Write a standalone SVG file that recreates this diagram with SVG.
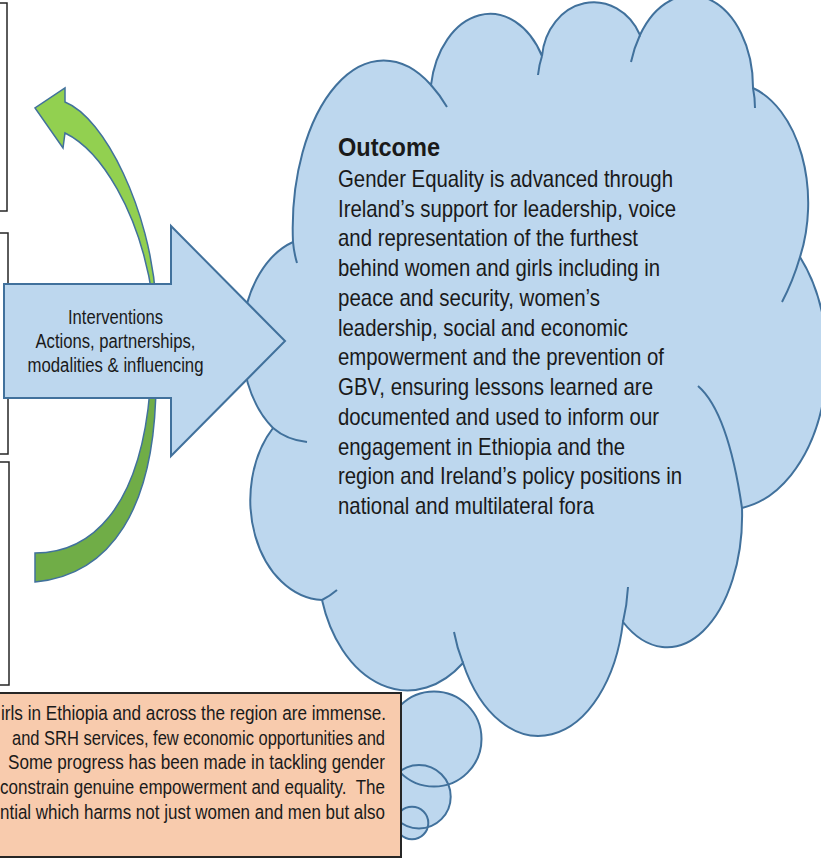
<svg xmlns="http://www.w3.org/2000/svg" width="821" height="858" viewBox="0 0 821 858">
<style>
.cl{fill:#BDD7EE;stroke:#41719C;stroke-width:2;}
.tl{fill:none;stroke:#41719C;stroke-width:2;}
.bx{fill:none;stroke:#262626;stroke-width:1.5;}
.t{font-family:"Liberation Sans Narrow","Arial Narrow","Liberation Sans",Arial,sans-serif;fill:#1a1a1a;}
.ct{font-size:24px;}
.it{font-size:20px;}
.pt{font-size:20.5px;}
.gs{stroke:#41719C;stroke-width:1.5;stroke-linejoin:miter;}
</style>
<rect width="821" height="858" fill="#ffffff"/>

<g id="left-box-1"><rect class="bx" x="-5" y="3" width="12" height="208"/></g>
<g id="left-box-2"><rect class="bx" x="-5" y="233" width="13" height="221"/></g>
<g id="left-box-3"><rect class="bx" x="-5" y="462" width="14" height="223"/></g>

<g id="outcome-cloud">
<path class="cl" d="M293,242 A91,168 0 0 1 431,85 A60,85 0 0 1 542,56 A52,60 0 0 1 640,35 A62,92 0 0 1 753,88 A77,120 0 0 1 800,257 A100,150 0 0 1 742,508 A75,132 0 0 1 623,622 A86,140 0 0 1 463,663 A90,130 0 0 1 322,600 A74,100 0 0 1 273,428 A73,105 0 0 1 293,242 Z"/>
<path class="tl" d="M293,242 Q294,253 297,263 M431,85 Q440,95 447,107 M542,56 Q539,65 538,75 M640,35 Q634,48 631,62 M753,88 Q755,98 755,108 M800,257 Q793,281 782,302 M742,508 Q728,412 698,386 M623,622 Q627,605 628,587 M463,663 Q457,648 454,632 M322,600 Q330,596 337,590 M273,428 Q287,440 307,442"/>
<text class="t" x="338" y="156" font-size="26" font-weight="bold" textLength="102" lengthAdjust="spacingAndGlyphs">Outcome</text>
<g class="t ct">
<text x="338" y="187" textLength="335" lengthAdjust="spacingAndGlyphs">Gender Equality is advanced through</text>
<text x="338" y="217" textLength="338" lengthAdjust="spacingAndGlyphs">Ireland’s support for leadership, voice</text>
<text x="338" y="246" textLength="300" lengthAdjust="spacingAndGlyphs">and representation of the furthest</text>
<text x="338" y="276" textLength="322" lengthAdjust="spacingAndGlyphs">behind women and girls including in</text>
<text x="338" y="306" textLength="262" lengthAdjust="spacingAndGlyphs">peace and security, women’s</text>
<text x="338" y="336" textLength="290" lengthAdjust="spacingAndGlyphs">leadership, social and economic</text>
<text x="338" y="365" textLength="326" lengthAdjust="spacingAndGlyphs">empowerment and the prevention of</text>
<text x="338" y="395" textLength="315" lengthAdjust="spacingAndGlyphs">GBV, ensuring lessons learned are</text>
<text x="338" y="425" textLength="321" lengthAdjust="spacingAndGlyphs">documented and used to inform our</text>
<text x="338" y="455" textLength="287" lengthAdjust="spacingAndGlyphs">engagement in Ethiopia and the</text>
<text x="338" y="484" textLength="344" lengthAdjust="spacingAndGlyphs">region and Ireland’s policy positions in</text>
<text x="338" y="514" textLength="256" lengthAdjust="spacingAndGlyphs">national and multilateral fora</text>
</g>
</g>

<g id="thought-bubbles">
<circle cx="434" cy="739" r="47.5" fill="#BDD7EE"/>
<circle cx="419" cy="796.7" r="31.7" fill="#BDD7EE"/>
<circle cx="412" cy="823" r="16.3" fill="#BDD7EE"/>
<circle class="tl" cx="434" cy="739" r="47.5"/>
<circle class="tl" cx="419" cy="796.7" r="31.7"/>
<circle class="tl" cx="412" cy="823" r="16.3"/>
</g>

<g id="context-box">
<rect x="-5" y="693" width="406" height="164" fill="#F8CBAD" stroke="#262626" stroke-width="2"/>
<g class="t pt">
<text x="1" y="720" textLength="385" lengthAdjust="spacingAndGlyphs">irls in Ethiopia and across the region are immense.</text>
<text x="12" y="745" textLength="373" lengthAdjust="spacingAndGlyphs">and SRH services, few economic opportunities and</text>
<text x="8" y="769" textLength="377" lengthAdjust="spacingAndGlyphs">Some progress has been made in tackling gender</text>
<text x="0" y="794" textLength="385" lengthAdjust="spacingAndGlyphs">constrain genuine empowerment and equality.&#160; The</text>
<text x="0" y="819" textLength="385" lengthAdjust="spacingAndGlyphs">ntial which harms not just women and men but also</text>
</g>
</g>

<g id="connectors">
<path class="gs" fill="#92D050" d="M65,102 L65,88 L35,108 L63,148 L65,133 C100,150 140,210 153,300 L155,345 L158,345 L156,300 C150,210 105,118 65,102 Z"/>
<path class="gs" fill="#70AD47" d="M156,345 L156,380 C156,510 110,575 35,582 L35,553 C90,553 140,510 150,390 L153,345 Z"/>
</g>

<g id="interventions-arrow">
<path d="M4,284 L171,284 L171,226 L285,341 L171,456 L171,398 L4,398 Z" fill="#BDD7EE" stroke="#41719C" stroke-width="2"/>
<g class="t it" text-anchor="middle">
<text x="115.5" y="324" textLength="95" lengthAdjust="spacingAndGlyphs">Interventions</text>
<text x="115.5" y="348" textLength="160" lengthAdjust="spacingAndGlyphs">Actions, partnerships,</text>
<text x="115.5" y="372" textLength="176" lengthAdjust="spacingAndGlyphs">modalities &amp; influencing</text>
</g>
</g>
</svg>
